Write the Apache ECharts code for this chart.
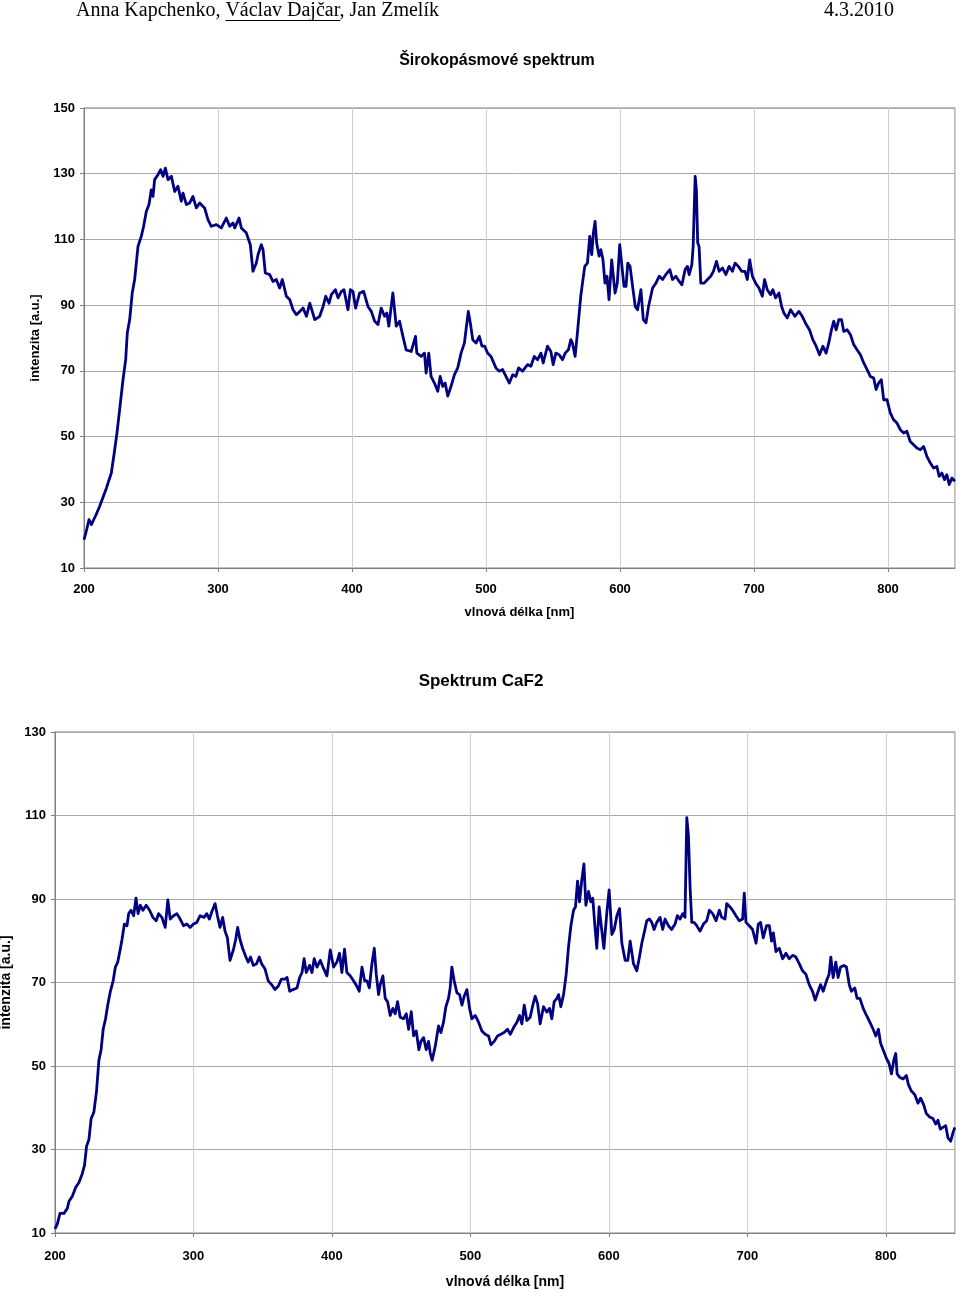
<!DOCTYPE html>
<html>
<head>
<meta charset="utf-8">
<script src="https://cdn.jsdelivr.net/npm/echarts@6/dist/echarts.min.js"></script>
<style>
html,body{margin:0;padding:0;background:#fff;}
#chart{width:960px;height:1292px;}
</style>
</head>
<body>
<div id="chart"></div>
<script>
// ---------- DATA ----------
const headerAuthorsA = "Anna Kapchenko, ";
const headerAuthorsB = "Václav Dajčar";
const headerAuthorsC = ", Jan Zmelík";
const headerDate = "4.3.2010";
const titleTop = "Širokopásmové spektrum";
const titleBottom = "Spektrum CaF2";
const xAxisName = "vlnová délka [nm]";
const yAxisName = "intenzita [a.u.]";

const wavelengthBroad = [200,201.7,203.7,205.5,209,211.7,216.7,220.4,222.9,224.6,226.6,229.1,231.1,232.3,234.1,236,237.8,240.3,242.8,244.5,246.5,248.5,250.2,251.5,252.7,255.2,257.2,259,260.7,262.7,265.2,267.7,270.1,272.6,273.9,276.4,278.9,281.3,283.8,286.3,290,292.5,295,298.8,302.5,306.2,308.7,311.2,312.5,315.7,317.4,321.1,324.1,326.1,328.6,329.9,332.3,333.6,335.3,338.6,341,343.5,346,348,351,353.5,356,358.5,361,363.5,366,368.5,372.2,375.9,378.4,380.4,382.9,384.6,387.6,389.6,392.1,394,397,398.8,400.7,402.7,405.7,408.7,411.9,414.4,416.9,419.4,421.8,424.3,426,427.5,430.5,433,435.5,438,440.4,444.2,447.4,448.4,451.6,454.1,455.3,457.3,459,461.5,464,465.8,467.7,469.5,471.5,473.9,476.4,478.9,481.4,483.9,485.1,486.8,488.3,490.1,492.6,495,497,499,501.2,503.7,507.4,509.9,512.4,514.9,517.4,519.9,522.3,524.3,527.3,531,533.5,536,538.5,541,542.7,545.9,548.4,550.1,552.1,554.6,557.1,559.1,561.5,563.3,564.5,566.5,568.2,570.7,572,573.7,575.7,577.4,578.9,580.1,581.4,582.6,584.4,585.7,587.3,588.8,590.3,591.8,593.8,596.3,598,599.8,601.7,603,604.5,605.8,607.5,609.4,611.4,613.1,615.6,617.4,619.4,621.3,624.3,626.8,629.3,631.8,634.2,637.2,639.2,641.7,644.2,646.2,648.6,650.3,651.6,653.6,654.6,656.1,657,658,659,660.3,662.8,665.3,667.7,669.7,672,674,676.5,679,681.4,683.9,685.9,688.3,690.8,693.3,695,696.8,698.8,701.2,703.7,706.2,707.9,709.9,712.4,714.1,716.1,718.6,720.6,722.3,724.8,727.3,730.5,733.5,736,739,741.4,743.9,746.4,748.9,751.4,753.8,755.8,757.8,759.5,761.3,763.3,765.3,767,769.5,772,774.4,776.9,779.4,781.9,784.4,786.8,789.3,791.1,793,795,796.8,799.3,801.7,804.2,806.7,809.2,811.7,814.1,816.6,819.1,821.6,824.1,826.6,829,831.5,834,836.5,838.2,840.2,842.2,843.9,845.7,847.7,849.9];
const intensityBroad = [18.6,21.2,24.7,23.2,26.2,28.8,34.3,38.9,46,51.1,58.2,67.3,73.4,81.5,85.6,93.7,97.8,107.9,111,114,118.5,120.6,125.1,123.1,128.2,129.7,131.2,129.2,131.7,128.2,129.2,124.6,126.2,121.6,124.1,120.6,121.1,123.1,119.6,121.1,119.6,116,114,114.5,113.5,116.5,114,115,113.5,116.5,113.5,112,108.4,100.3,102.8,105.4,108.4,106.9,99.8,99.3,97.2,97.8,95.2,97.8,92.7,91.7,88.6,87.1,88.1,89.1,86.6,90.6,85.6,86.6,89.6,92.7,90.6,93.2,94.7,92.2,94.2,94.7,88.6,94.7,94.2,89.1,93.7,94.2,89.6,88.1,85.1,84.1,89.1,86.6,87.6,83.6,93.7,83.6,85.1,80.5,76.4,75.9,80.5,75.4,74.4,75.4,69.3,75.4,68.3,66.3,63.8,68.3,65.3,66.3,62.3,65.3,68.8,70.9,75.4,78.5,82.5,88.1,84.6,79.5,78.5,80.5,77.5,77.5,75.4,74.4,70.9,69.9,70.4,68.3,66.3,68.8,68.3,70.9,69.9,71.9,71.4,74.4,73.4,75.4,72.4,77.5,75.9,71.9,75.4,74.9,73.4,75.4,76.4,79.5,78.5,74.4,81.5,92.7,96.7,101.8,102.8,110.9,105.4,112,115.5,108.9,104.9,106.9,103.8,96.7,98.8,91.7,103.8,93.7,96.7,108.4,100.8,95.7,95.7,102.8,101.8,95.7,89.6,88.6,94.7,85.6,84.6,89.6,95.2,96.7,98.8,97.8,99.3,100.8,97.8,98.8,97.2,96.2,100.8,101.8,99.3,102.3,107.9,129.2,125.1,108.9,107.9,96.7,96.7,97.8,98.8,100.3,103.3,100.3,101.3,99.3,101.8,100.3,102.8,101.8,100.3,100.3,97.8,103.8,98.8,96.7,95.2,92.7,97.8,94.7,93.2,94.7,92.2,93.7,89.6,87.6,86.1,88.6,86.6,88.1,86.6,84.1,82.5,79.5,77.5,74.9,77.5,75.4,78.5,82.5,85.1,82.5,85.6,85.6,82,82.5,81,78,76.4,74.9,72.4,70.4,68.3,67.8,64.3,66.3,67.3,61.2,61.2,57.2,55.1,54.1,52.1,51.1,51.6,48.5,47.5,46.5,46,47,44,42,40.4,40.9,37.9,38.9,36.9,38.4,35.4,37.4,36.4];

const wavelengthCaF2 = [200,201.7,203.6,206.5,208.9,210.1,212.5,214.9,217.3,219.7,221.3,222.8,224.5,226.1,228.1,230,231.7,233.3,234.8,236.5,238.1,240,242,243.6,245.3,246.8,248.4,250.1,252,253.2,254.9,256.8,258.5,260,261.6,263.5,265.9,268.3,270.7,273.1,274.8,277.2,279.6,281.5,283.2,285.6,288,290.4,292.8,295.2,297.6,300,302.4,304.8,307.7,309.6,311.5,313.2,315.6,317.3,319.2,321.1,322.8,324.5,326.4,328.8,330.5,331.9,333.6,335.5,337.9,339.6,341.2,343.2,345.6,347.5,349.2,351.6,354,356.4,358.8,361.2,363.5,365.9,367.6,369.5,371.9,374.8,376.7,378.4,379.9,381.5,383.9,385.6,387.2,389.2,391.6,393.5,396.4,398.8,401.2,403.6,405.5,407.2,409.1,410.8,413.2,415.6,418,419.7,421.7,423.6,425.3,427,428.9,430.6,432,433.7,434.9,436.8,438.5,440.2,442.1,444,445.7,447.4,449.3,451.7,453.7,455.4,457.3,459,460.9,462.8,464.3,466.2,468.1,469.8,471,472.4,474.6,477,478.7,480.6,482.3,484.2,485.4,486.6,488.3,490.3,492.2,493.9,495.5,497.5,499.4,501.1,503.5,505.9,508.3,510.7,513.1,514.8,517.2,519.6,522,524.4,526.8,528.8,531.2,533.6,535.5,537.2,538.9,540.8,543.2,545.1,546.8,548.5,550.4,552.8,555.2,557.2,558.8,560.5,562.5,563.7,565.3,567.3,569.2,570.9,572.6,574.5,575.9,577.4,578.8,580.5,582,583.4,585.3,587,588.4,589.9,591.3,593,594.5,596.4,598.6,600.2,602.2,603.9,605.8,607.7,609.4,611.8,613.7,615.4,617.8,620.2,622.1,623.8,625.5,627.4,629.3,631,632.7,634.6,637,638.9,640.6,643,645.4,647.8,649.5,651.4,653.4,655,656.3,657.5,658.7,659.9,661.5,663.5,665.9,668.3,670.7,672.6,675,677.4,679.8,681.5,683.9,685.1,687.5,689.4,691.8,694.2,696.6,697.8,699,701.4,703.8,706.3,707.9,709.6,711.5,713.9,715.9,717.5,718.8,720.7,723.1,725.5,727.9,730.3,732.7,735.1,737.5,739.9,742.3,744.7,747.1,749,751.2,752.9,754.8,757.2,759.1,760.3,762,763.9,765.6,767.3,769.7,771.6,773.6,775.2,777.6,779.3,781.3,783.7,786.1,788.5,790.9,792.8,794.7,796.2,798.1,800.5,802.4,804.1,805.8,807.2,808.2,810.1,812.5,814.9,816.3,818.5,820.9,823.3,825.2,827.4,829.3,831.7,834.1,836.1,837.7,839.4,841.3,843.3,844.9,846.9,848.6,849.9];
const intensityCaF2 = [11,12.2,14.7,14.7,15.9,17.6,18.8,20.9,22.1,24.2,26.2,30.8,32.4,37.4,39,44,51.4,53.9,58.8,61.3,64.6,67.9,70.4,73.7,74.9,77.4,80.3,84,83.6,86.5,87.3,86,90.2,86.5,88.5,87.3,88.5,87.3,85.6,84.8,86.5,85.6,83.2,89.8,85.2,86,86.5,85.2,83.6,84,83.2,84,84.4,86,85.6,86.5,85.2,86.9,88.9,86,83.2,85.6,82.3,80.7,75.3,77.8,80.3,83.2,80.3,78.2,76.1,74.9,76.1,74.1,74.5,76.1,74.5,73.3,70.4,69.5,68.3,69.1,70.8,70.8,71.2,67.9,68.3,68.7,71.2,72.4,75.7,72.4,74.1,72.4,75.7,73.7,75.3,73.7,71.6,77.8,73.7,74.9,77,72.4,78,72.4,71.6,70.4,69.1,67.9,73.7,70.4,70.4,68.7,74.5,78.2,72,67.1,69.5,71.6,66.2,65.4,62.1,63.8,62.5,65.4,61.7,61.3,62.5,58.8,63,57.2,58.4,53.9,55.9,56.8,53.9,55.9,53.1,51.4,54.7,59.6,58,60.5,64.2,66.2,68.7,73.7,70.4,67.5,67.1,64.6,66.7,68.3,63.8,61.3,62.1,60.5,58.4,57.6,57.2,55.1,55.9,57.2,57.6,58,58.8,57.6,59.2,60.5,62.1,60.1,64.6,60.9,61.7,64.6,66.7,65,60.1,64.2,62.9,63.8,61.3,65.4,66.2,67.1,64.2,67.1,72,78.6,83.6,87.3,88.1,94.3,89.3,94.7,98.4,88.5,91.8,89.3,90.2,83.6,78.2,88.1,83.6,78.2,86.9,92.2,81.5,82.7,86,87.7,79.4,75.3,75.3,79.9,74.5,72.8,76.1,79.4,81.9,84.8,85.2,84.4,82.7,84.4,85.6,82.7,85.2,83.6,82.7,84,86,85.2,86.5,85.6,109.5,105,92.6,84.4,84.4,83.6,82.3,84,84.8,87.3,86.5,84.8,87.3,85.6,85.2,88.9,88.1,87.3,86,84.8,85.2,91.4,84.4,83.6,82.7,79.4,84,84.4,80.7,83.6,83.6,79.9,81.9,77.4,78.2,75.7,77,75.7,76.5,76.1,74.5,72.8,72,69.5,67.9,65.8,67.9,69.5,67.9,70.4,72,76.1,71.2,74.9,71.2,73.7,74.1,73.7,69.5,67.9,68.7,66.2,66.2,63.8,62.1,60.5,58.8,57.2,58.8,55.5,53.9,51.8,50.6,48.1,51.4,53,48.1,47.3,46.9,47.7,45.6,44,43.2,41.1,42.3,40.7,38.6,37.8,37.4,36.1,37,34.9,35.3,35.7,32.8,32,34.1,35.3];

const xMin = 200, xMax = 850, xStep = 100;
const yTopMin = 10, yTopMax = 150, yBotMin = 10, yBotMax = 130, yStep = 20;

// ---------- BUILD ----------
function zip(xs, ys) { return xs.map((x, i) => [x, ys[i]]); }

const chart = echarts.init(document.getElementById('chart'), null, { renderer: 'canvas' });

const sans = '"Liberation Sans", Arial, sans-serif';
const serif = '"Liberation Serif", "Times New Roman", serif';

// measure header parts for underline
const mctx = document.createElement('canvas').getContext('2d');
const headerFont = '20px ' + serif;
mctx.font = headerFont;
const headerX = 76;
const wA = mctx.measureText(headerAuthorsA).width;
const wB = mctx.measureText(headerAuthorsB).width;

function xAxisCfg(gridIndex, labelMargin, nameGap, nameSize) {
  return {
    type: 'value', gridIndex: gridIndex, min: xMin, max: xMax, interval: xStep,
    name: xAxisName, nameLocation: 'middle', nameGap: nameGap,
    nameTextStyle: { fontFamily: sans, fontSize: nameSize, fontWeight: 'bold', color: '#000' },
    axisLine: { show: true, onZero: false, lineStyle: { color: '#808080', width: 1 } },
    axisTick: { show: true, length: 4, inside: false, lineStyle: { color: '#808080' } },
    axisLabel: { show: true, margin: labelMargin, showMaxLabel: false, color: '#000',
      fontFamily: sans, fontSize: 13, fontWeight: 'bold' },
    splitLine: { show: true, lineStyle: { color: '#d0d0d0', width: 1 } }
  };
}
function yAxisCfg(gridIndex, min, max, nameGap, nameSize) {
  return {
    type: 'value', gridIndex: gridIndex, min: min, max: max, interval: yStep,
    name: yAxisName, nameLocation: 'middle', nameGap: nameGap, nameRotate: 90,
    nameTextStyle: { fontFamily: sans, fontSize: nameSize, fontWeight: 'bold', color: '#000' },
    axisLine: { show: true, lineStyle: { color: '#808080', width: 1 } },
    axisTick: { show: true, length: 4, inside: false, lineStyle: { color: '#808080' } },
    axisLabel: { show: true, margin: 9, color: '#000', fontFamily: sans, fontSize: 13, fontWeight: 'bold' },
    splitLine: { show: true, lineStyle: { color: '#a8a8a8', width: 1 } }
  };
}

const option = {
  animation: false,
  backgroundColor: '#ffffff',
  grid: [
    { left: 84, top: 108, width: 871, height: 460, show: true, borderColor: '#808080', borderWidth: 1,
      backgroundColor: 'transparent', containLabel: false, outerBoundsMode: 'none' },
    { left: 55, top: 732, width: 900, height: 501, show: true, borderColor: '#808080', borderWidth: 1,
      backgroundColor: 'transparent', containLabel: false, outerBoundsMode: 'none' }
  ],
  xAxis: [ xAxisCfg(0, 15, 38, 13), xAxisCfg(1, 17, 42, 14) ],
  yAxis: [ yAxisCfg(0, yTopMin, yTopMax, 38, 13), yAxisCfg(1, yBotMin, yBotMax, 39, 14) ],
  series: [
    { type: 'line', xAxisIndex: 0, yAxisIndex: 0, data: zip(wavelengthBroad, intensityBroad),
      showSymbol: false, symbol: 'none', smooth: false,
      lineStyle: { color: '#000080', width: 2.8, join: 'round' } },
    { type: 'line', xAxisIndex: 1, yAxisIndex: 1, data: zip(wavelengthCaF2, intensityCaF2),
      showSymbol: false, symbol: 'none', smooth: false,
      lineStyle: { color: '#000080', width: 2.8, join: 'round' } }
  ],
  graphic: [
    { type: 'text', x: headerX, y: 11, style: { text: headerAuthorsA + headerAuthorsB + headerAuthorsC,
      font: headerFont, fill: '#000', textAlign: 'left', textVerticalAlign: 'middle' } },
    { type: 'line', shape: { x1: headerX + wA, y1: 20.5, x2: headerX + wA + wB, y2: 20.5 },
      style: { stroke: '#000', lineWidth: 1 } },
    { type: 'text', x: 894, y: 11, style: { text: headerDate, font: headerFont, fill: '#000',
      textAlign: 'right', textVerticalAlign: 'middle' } },
    { type: 'text', x: 497, y: 61, style: { text: titleTop, font: 'bold 16px ' + sans, fill: '#000',
      textAlign: 'center', textVerticalAlign: 'middle' } },
    { type: 'text', x: 481, y: 681, style: { text: titleBottom, font: 'bold 17px ' + sans, fill: '#000',
      textAlign: 'center', textVerticalAlign: 'middle' } }
  ]
};
chart.setOption(option);
</script>
</body>
</html>
